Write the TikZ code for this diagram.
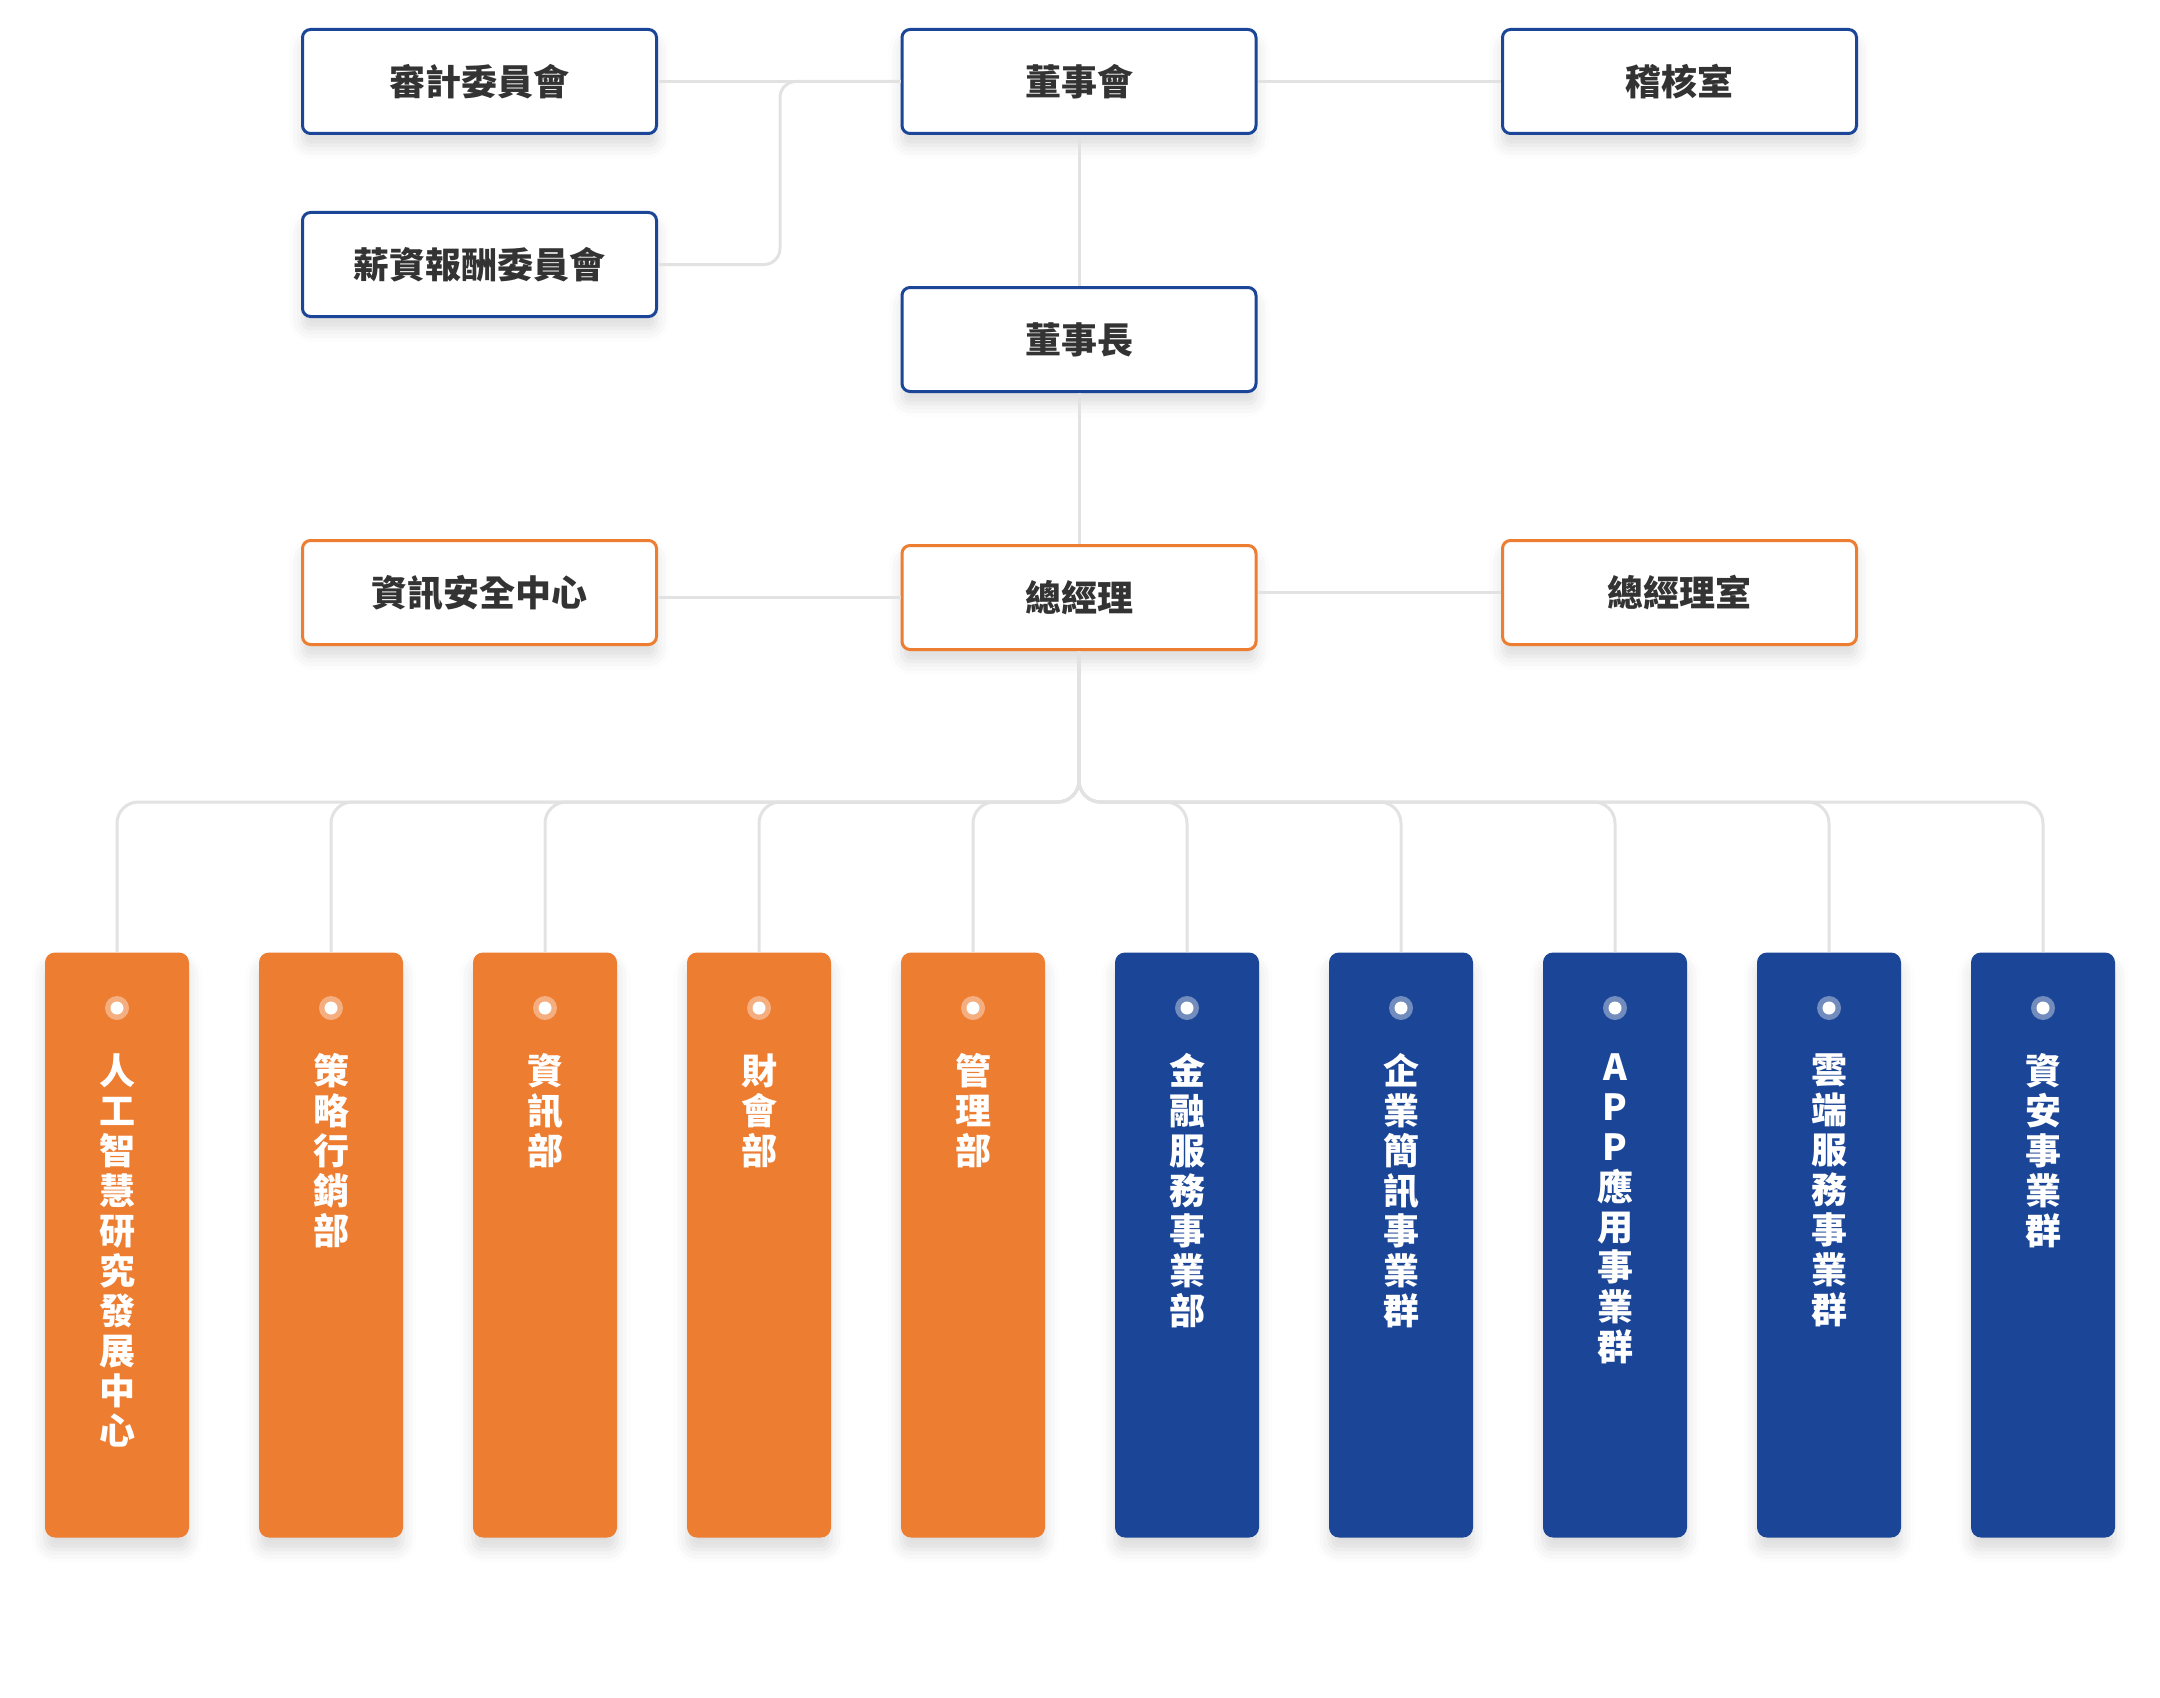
\documentclass[tikz,border=0pt]{standalone}
\usepackage{fontspec}
\setmainfont{Noto Sans CJK TC}
\usepackage{tikz}
\usetikzlibrary{shapes, shadows.blur}
\tikzset{every picture/.style={line width=0.75pt}}

\definecolor{boardblue}{HTML}{1B4597}
\definecolor{mgmtorange}{HTML}{ED7D31}
\definecolor{linkgray}{HTML}{E2E2E2}
\definecolor{textgray}{HTML}{333333}

\begin{document}
\begin{tikzpicture}[x=0.75pt,y=0.75pt,yscale=-1,xscale=1]

     \tikzstyle{office} = [rounded corners=6pt,
						fill = white,
						line width = 2.25pt,
						minimum width = 265.5pt,
						minimum height = 78pt,
						inner sep = 0pt,
						text = textgray,
						font = \fontsize{27pt}{30pt}\selectfont\bfseries,
						blur shadow = {shadow xshift=0pt, shadow yshift=-9pt, shadow blur radius=10pt, shadow opacity=14}
						]
     \tikzstyle{blueoffice} = [office, draw = boardblue]
     \tikzstyle{orangeoffice} = [office, draw = mgmtorange]
     \tikzstyle{dept} = [rounded corners=7.5pt,
						anchor = north,
						minimum width = 108pt,
						minimum height = 438.75pt,
						inner sep = 0pt,
						blur shadow = {shadow xshift=0pt, shadow yshift=-9pt, shadow blur radius=10pt, shadow opacity=14}
						]
     \tikzstyle{deptname} = [anchor = north, align = center, inner sep = 0pt, text = white,
						font = \fontsize{27pt}{30pt}\selectfont\bfseries]
     \tikzstyle{link} = [draw = linkgray, line width = 2.25pt, rounded corners = 16pt]

\useasboundingbox (0,0) rectangle (2160,1698);

% board level
\node [blueoffice] (auditcom) at (479.5,81.5) {審計委員會};
\node [blueoffice] (board) at (1079,81.5) {董事會};
\node [blueoffice] (internalaudit) at (1679.5,81.5) {稽核室};
\node [blueoffice] (paycom) at (479.5,264.5) {薪資報酬委員會};
\node [blueoffice] (chair) at (1079,339.5) {董事長};

% management level
\node [orangeoffice] (infosec) at (479.5,592.5) {資訊安全中心};
\node [orangeoffice] (gm) at (1079,597.5) {總經理};
\node [orangeoffice] (gmoffice) at (1679.5,592.5) {總經理室};

\draw[link] (auditcom) -- (board);
\draw[link, rounded corners=12pt] (paycom.east) -- (780,264.5) -- (780,81.5) -- (board.west);
\draw[link] (board) -- (internalaudit);
\draw[link] (board) -- (chair);
\draw[link] (chair) -- (gm);
\draw[link] (gm.west) -- (gm.west -| infosec.east);
\draw[link] (gm.east |- gmoffice.east) -- (gmoffice.west);

% departments
\foreach \name/\col/\label [count=\i from 0] in {
	ai/mgmtorange/{人\\工\\智\\慧\\研\\究\\發\\展\\中\\心},
	marketing/mgmtorange/{策\\略\\行\\銷\\部},
	it/mgmtorange/{資\\訊\\部},
	finance/mgmtorange/{財\\會\\部},
	admin/mgmtorange/{管\\理\\部},
	fintech/boardblue/{金\\融\\服\\務\\事\\業\\部},
	sms/boardblue/{企\\業\\簡\\訊\\事\\業\\群},
	app/boardblue/{A\\P\\P\\應\\用\\事\\業\\群},
	cloud/boardblue/{雲\\端\\服\\務\\事\\業\\群},
	security/boardblue/{資\\安\\事\\業\\群}}
{
	\node [dept, fill=\col] (\name) at ({117+\i*214},952) {};
	\fill [\col!62!white] ({117+\i*214},1008) circle (12);
	\fill [white] ({117+\i*214},1008) circle (6.5);
	\node [deptname] (\name-label) at ({117+\i*214},1053) {\label};
	\draw[link] (gm.south) -- (1079,802) -- ({117+\i*214},802) -- (\name.north);
}

\end{tikzpicture}
\end{document}
